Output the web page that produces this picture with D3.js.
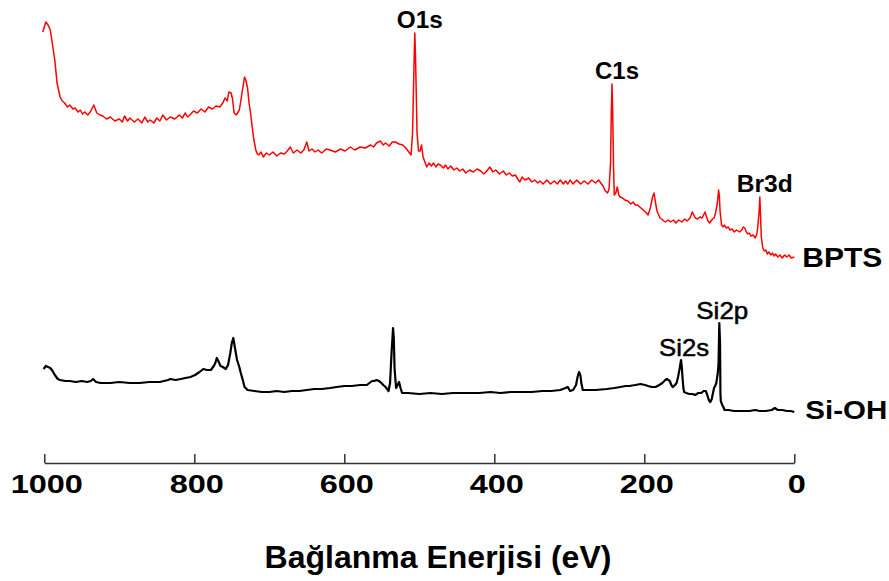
<!DOCTYPE html>
<html>
<head>
<meta charset="utf-8">
<script src="https://cdn.jsdelivr.net/npm/d3@7"></script>
<style>
  body { margin: 0; background: #fff; }
  text { font-family: "Liberation Sans", Arial, sans-serif; }
</style>
</head>
<body>
<div id="chart"></div>
<script>
// Tick values on the energy axis (eV)
var xTicks = [1000, 800, 600, 400, 200, 0];

// BPTS survey spectrum: [binding energy (eV), intensity (a.u.)]
var bptsSpectrum = [
  [1002, 431], [998, 441], [995, 438], [992, 433], [989, 418], [986, 403], [983, 380], [979, 366],
  [976, 362], [973, 360], [969, 356], [966, 358], [962, 354], [959, 355], [955, 351], [952, 353],
  [949, 349], [946, 351], [942, 348], [938, 352], [934, 358], [930, 350], [926, 348], [922, 347],
  [917, 344], [912, 346], [906, 342], [900, 344], [896, 341], [893, 347], [889, 342], [886, 345],
  [880, 341], [875, 344], [870, 340], [866, 346], [862, 341], [859, 343], [854, 340], [850, 345],
  [846, 342], [842, 348], [837, 343], [832, 346], [826, 344], [820, 348], [816, 345], [812, 350],
  [809, 346], [806, 348], [801, 352], [796, 350], [791, 354], [786, 351], [781, 356], [776, 354],
  [771, 357], [766, 356], [762, 360], [759, 365], [756, 362], [754, 371], [751, 370], [749, 364],
  [747, 350], [744, 348], [740, 353], [738, 362], [736, 372], [733, 386], [731, 382], [729, 375],
  [727, 360], [725, 350], [721, 325], [718, 313], [716, 309], [714, 308], [711, 311], [708, 306],
  [704, 310], [700, 308], [695, 311], [690, 307], [685, 310], [680, 309], [676, 312], [672, 316],
  [668, 310], [663, 313], [658, 310], [654, 313], [650, 321], [647, 312], [643, 314], [639, 311],
  [635, 313], [630, 310], [624, 314], [619, 313], [612, 311], [605, 314], [599, 312], [592, 316],
  [586, 313], [579, 316], [572, 315], [565, 318], [561, 316], [557, 320], [552, 322], [548, 318],
  [545, 320], [540, 317], [536, 321], [532, 321], [527, 319], [522, 318], [518, 315], [515, 312],
  [511, 308], [509, 330], [507, 400], [506, 430], [505, 405], [503, 330], [501, 312], [499, 312],
  [497, 318], [495, 306], [492, 300], [490, 296], [487, 300], [484, 297], [481, 300], [478, 296],
  [475, 299], [472, 298], [468, 295], [465, 298], [462, 294], [458, 297], [454, 293], [450, 295],
  [446, 292], [442, 294], [438, 290], [433, 293], [428, 291], [423, 294], [418, 292], [414, 289],
  [410, 292], [406, 296], [402, 291], [398, 293], [393, 289], [388, 292], [384, 288], [380, 290],
  [376, 287], [372, 288], [368, 283], [366, 281], [363, 286], [359, 283], [354, 285], [350, 281],
  [346, 283], [342, 280], [339, 282], [335, 279], [330, 283], [325, 279], [320, 282], [316, 279],
  [312, 283], [308, 279], [305, 282], [302, 279], [299, 283], [295, 279], [290, 283], [285, 279],
  [280, 282], [275, 279], [270, 283], [265, 280], [261, 283], [258, 280], [255, 277], [252, 272],
  [249, 270], [247, 274], [245, 300], [244, 350], [243, 379], [242, 345], [241, 295], [240, 268],
  [238, 270], [236, 276], [234, 268], [232, 266], [229, 265], [226, 263], [222, 262], [218, 259],
  [215, 261], [212, 258], [209, 258], [206, 256], [203, 254], [200, 252], [197, 250], [195, 248],
  [192, 255], [189, 266], [187, 270], [185, 260], [183, 252], [182, 250], [179, 245], [177, 244],
  [174, 242], [172, 241], [168, 243], [165, 241], [161, 243], [158, 240], [154, 243], [150, 241],
  [146, 244], [143, 242], [139, 245], [136, 251], [134, 248], [132, 245], [129, 244], [126, 246],
  [123, 245], [121, 248], [119, 251], [117, 246], [115, 242], [113, 240], [111, 242], [109, 244],
  [107, 245], [105, 250], [103, 258], [102, 264], [101, 273], [100, 268], [99, 252], [97, 238],
  [95, 236], [93, 238], [91, 235], [88, 236], [86, 233], [83, 234], [80, 231], [77, 233],
  [73, 231], [70, 233], [68, 236], [66, 235], [64, 231], [62, 229], [60, 230], [58, 227],
  [55, 228], [52, 225], [50, 229], [49, 234], [47, 250], [46, 266], [45, 248], [44, 226],
  [42, 215], [40, 212], [38, 213], [36, 209], [34, 211], [31, 208], [29, 210], [27, 207],
  [25, 209], [22, 206], [19, 208], [16, 205], [13, 208], [10, 206], [7, 208], [4, 205], [0, 206]
];

// Si-OH survey spectrum: [binding energy (eV), intensity (a.u.)]
var siohSpectrum = [
  [1001, 94], [998, 97], [995, 96], [992, 95], [989, 92], [986, 88], [982, 84], [979, 83],
  [972, 82], [966, 82], [958, 81], [950, 82], [943, 81], [938, 82], [935, 84], [931, 81],
  [925, 80], [912, 80], [900, 81], [886, 80], [873, 80], [860, 81], [846, 81], [835, 83],
  [832, 84], [825, 83], [818, 84], [812, 85], [805, 86], [799, 88], [793, 91], [788, 94],
  [783, 93], [778, 93], [774, 97], [772, 100], [770, 105], [768, 102], [765, 97], [762, 96],
  [758, 94], [755, 98], [752, 110], [750, 120], [748, 125], [746, 116], [743, 103], [740, 96],
  [738, 90], [735, 82], [733, 76], [729, 73], [720, 72], [710, 71], [700, 71], [690, 72],
  [680, 71], [670, 72], [660, 72], [650, 73], [640, 74], [630, 74], [619, 75], [610, 76],
  [600, 77], [590, 77], [579, 78], [570, 78], [563, 82], [560, 82], [557, 83], [554, 82],
  [552, 81], [548, 78], [545, 76], [541, 72], [539, 80], [537, 110], [535, 135], [534, 125],
  [533, 95], [531, 75], [529, 78], [527, 81], [525, 75], [523, 70], [515, 70], [500, 69],
  [485, 70], [470, 69], [455, 70], [440, 70], [420, 70], [405, 71], [392, 70], [378, 71],
  [364, 71], [350, 71], [336, 72], [324, 72], [312, 73], [305, 75], [302, 76], [299, 72],
  [295, 73], [291, 78], [289, 86], [287, 91], [285, 87], [284, 80], [282, 73], [275, 73],
  [265, 73], [250, 74], [240, 75], [232, 76], [225, 77], [220, 77], [212, 78], [205, 79],
  [199, 78], [195, 77], [190, 76], [185, 76], [180, 78], [176, 80], [172, 83], [170, 84],
  [168, 83], [166, 82], [164, 78], [162, 76], [159, 78], [157, 80], [155, 86], [153, 94],
  [151, 103], [150, 96], [149, 85], [148, 76], [147, 71], [144, 70], [140, 69], [136, 69],
  [132, 68], [128, 70], [124, 70], [121, 72], [118, 72], [116, 68], [114, 63], [112, 61],
  [110, 64], [109, 68], [107, 75], [105, 78], [104, 80], [102, 90], [101, 100], [100, 140],
  [99, 120], [98.5, 70], [98, 62], [96, 58], [94, 55], [93, 53], [88, 53], [80, 52],
  [70, 52], [60, 52], [52, 53], [46, 52], [38, 52], [30, 53], [28, 54], [26, 55],
  [24, 54], [22, 53], [16, 53], [10, 52], [5, 52], [0, 51]
];

// Peak annotations: [label, binding energy of the peak]
var bptsPeaks = [["O1s", 506], ["C1s", 243], ["Br3d", 46]];
var siohPeaks = [["Si2s", 151], ["Si2p", 100]];

// Series names
var seriesNames = ["BPTS", "Si-OH"];

// Rendered label widths (the original figure is stretched horizontally)
var labelWidth = { "O1s": 46, "C1s": 44, "Br3d": 56, "Si2s": 50, "Si2p": 52 };

var svgWidth = 889;
var svgHeight = 581;

var svg = d3.select("#chart")
  .append("svg")
  .attr("width", svgWidth)
  .attr("height", svgHeight);

// Energy axis runs from high to low
var xScale = d3.scaleLinear()
  .domain([1000, 0])
  .range([44.3, 794.3]);

// Arbitrary intensity scale (no y axis drawn)
var yScale = d3.scaleLinear()
  .domain([0, 450])
  .range([463, 13]);

var line = d3.line()
  .x(d => xScale(d[0]))
  .y(d => yScale(d[1]));

// Spectra
svg.append("path")
  .datum(bptsSpectrum)
  .attr("fill", "none")
  .attr("stroke", "#ff0000")
  .attr("stroke-width", 1.5)
  .attr("stroke-linejoin", "round")
  .attr("d", line);

svg.append("path")
  .datum(siohSpectrum)
  .attr("fill", "none")
  .attr("stroke", "#000")
  .attr("stroke-width", 2.2)
  .attr("stroke-linejoin", "round")
  .attr("d", line);

// X axis with upward ticks
var xAxis = svg.append("g")
  .attr("transform", `translate(0, ${yScale(0)})`)
  .call(d3.axisBottom(xScale)
    .tickValues(xTicks)
    .tickSize(-9)
    .tickSizeOuter(0)
    .tickFormat(d3.format("d")));

xAxis.select(".domain")
  .attr("stroke", "#333")
  .attr("stroke-width", 1.5);

xAxis.selectAll(".tick line")
  .attr("stroke", "#333")
  .attr("stroke-width", 1.5);

xAxis.selectAll(".tick text")
  .attr("y", 30)
  .attr("dy", 0)
  .attr("fill", "#000")
  .attr("font-size", "25px")
  .attr("font-weight", "bold")
  .attr("transform", "translate(2,0) scale(1.3,1)");

// Axis title
svg.append("text")
  .attr("x", 438)
  .attr("y", 568)
  .attr("text-anchor", "middle")
  .attr("font-size", "32px")
  .attr("font-weight", "bold")
  .text("Bağlanma Enerjisi (eV)");

// Peak labels, placed just above each peak
function peakValue(spectrum, energy) {
  var p = spectrum.find(d => d[0] === energy);
  return p ? p[1] : 0;
}

svg.selectAll(".bptsPeak")
  .data(bptsPeaks)
  .enter()
  .append("text")
  .classed("bptsPeak", true)
  .attr("x", d => xScale(d[1]) + 5)
  .attr("y", d => yScale(peakValue(bptsSpectrum, d[1])) - 5)
  .attr("text-anchor", "middle")
  .attr("font-size", "23px")
  .attr("font-weight", "bold")
  .attr("textLength", d => labelWidth[d[0]])
  .attr("lengthAdjust", "spacingAndGlyphs")
  .text(d => d[0]);

svg.selectAll(".siohPeak")
  .data(siohPeaks)
  .enter()
  .append("text")
  .classed("siohPeak", true)
  .attr("x", d => xScale(d[1]) + 3)
  .attr("y", d => yScale(peakValue(siohSpectrum, d[1])) - 4)
  .attr("text-anchor", "middle")
  .attr("font-size", "24px")
  .attr("font-weight", "normal")
  .attr("stroke", "#000")
  .attr("stroke-width", 0.5)
  .attr("textLength", d => labelWidth[d[0]])
  .attr("lengthAdjust", "spacingAndGlyphs")
  .text(d => d[0]);

// Series names at the right end of each spectrum
var bptsEnd = bptsSpectrum[bptsSpectrum.length - 1];
var siohEnd = siohSpectrum[siohSpectrum.length - 1];

svg.append("text")
  .attr("x", xScale(bptsEnd[0]) + 8)
  .attr("y", yScale(bptsEnd[1]) + 10)
  .attr("font-size", "28px")
  .attr("font-weight", "bold")
  .attr("textLength", 80)
  .attr("lengthAdjust", "spacingAndGlyphs")
  .text(seriesNames[0]);

svg.append("text")
  .attr("x", xScale(siohEnd[0]) + 11)
  .attr("y", yScale(siohEnd[1]) + 7)
  .attr("font-size", "26px")
  .attr("font-weight", "bold")
  .attr("textLength", 82)
  .attr("lengthAdjust", "spacingAndGlyphs")
  .text(seriesNames[1]);
</script>
</body>
</html>
